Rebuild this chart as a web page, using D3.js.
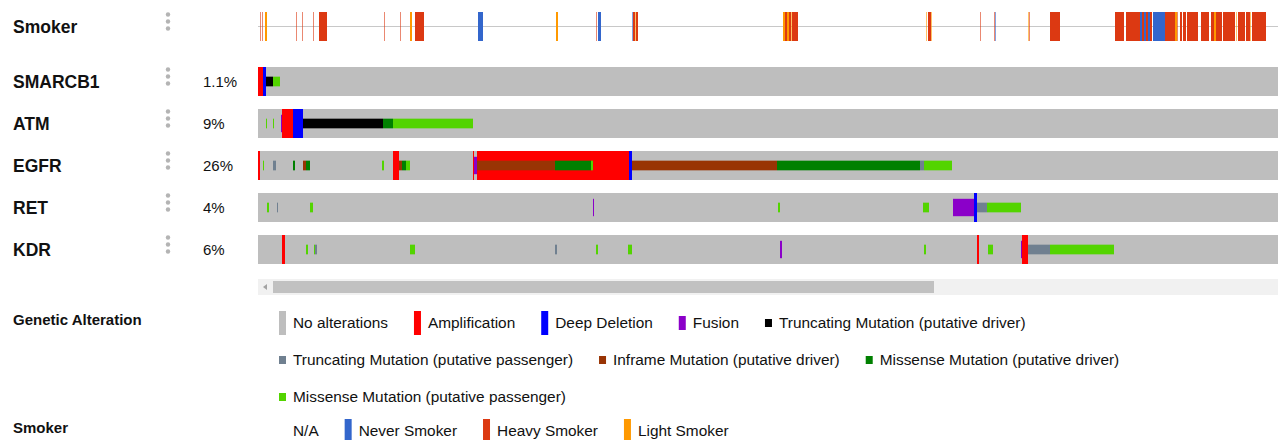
<!DOCTYPE html>
<html>
<head>
<meta charset="utf-8">
<script src="https://cdnjs.cloudflare.com/ajax/libs/d3/7.8.5/d3.min.js"></script>
<style>
  body { margin: 0; background: #fff; }
  svg { font-family: "Liberation Sans", Arial, sans-serif; }
</style>
</head>
<body>
<script>
// sample columns in the oncoprint (one column ~ one pixel)
var nSamples = 1020;

var genes = ["SMARCB1", "ATM", "EGFR", "RET", "KDR"];
var percents = ["1.1%", "9%", "26%", "4%", "6%"];

// [firstSample, lastSample, value]
var smoker = [
  [2,3,"Heavy Smoker"],[4,5,"Heavy Smoker"],[7,9,"Light Smoker"],[38,39,"Heavy Smoker"],
  [44,45,"Heavy Smoker"],[55,56,"Heavy Smoker"],[61,69,"Heavy Smoker"],[126,127,"Heavy Smoker"],
  [142,143,"Heavy Smoker"],[152,154,"Light Smoker"],[157,166,"Heavy Smoker"],[220,225,"Never Smoker"],
  [298,300,"Light Smoker"],[338,339,"Heavy Smoker"],[340,343,"Never Smoker"],[374,375,"Never Smoker"],
  [375,377,"Heavy Smoker"],[377,378,"Light Smoker"],[378,380,"Heavy Smoker"],[525,527,"Light Smoker"],
  [527,529,"Heavy Smoker"],[529,531,"Light Smoker"],[531,533,"Heavy Smoker"],[533,534,"Light Smoker"],
  [534,540,"Heavy Smoker"],[668,669,"Light Smoker"],[670,673,"Heavy Smoker"],[673,674,"Light Smoker"],
  [722,723,"Heavy Smoker"],[736,737,"Heavy Smoker"],[737,738,"Never Smoker"],[770,771,"Light Smoker"],
  [771,772,"Heavy Smoker"],[792,802,"Heavy Smoker"],[857,866,"Heavy Smoker"],[868,882,"Heavy Smoker"],
  [882,884,"Never Smoker"],[884,886,"Heavy Smoker"],[886,888,"Never Smoker"],[888,890,"Heavy Smoker"],
  [890,892,"Never Smoker"],[892,894,"Heavy Smoker"],[895,907,"Never Smoker"],[907,917,"Heavy Smoker"],
  [917,919,"Light Smoker"],[919,920,"Heavy Smoker"],[922,924,"Heavy Smoker"],[925,928,"Heavy Smoker"],
  [929,940,"Heavy Smoker"],[943,951,"Heavy Smoker"],[953,956,"Heavy Smoker"],[956,958,"Light Smoker"],
  [958,964,"Heavy Smoker"],[965,977,"Heavy Smoker"],[978,979,"Light Smoker"],[980,987,"Heavy Smoker"],
  [988,992,"Heavy Smoker"],[992,993,"Light Smoker"],[994,1008,"Heavy Smoker"]
];

var smarcb1 = [
  [0,5,"amp"],[5,8,"del"],[8,15,"truncDriver"],[15,22,"missPass"]
];
var atm = [
  [8,9,"missPass"],[15,16,"missPass"],[23,24,"fusion"],[24,35,"amp"],[35,45,"del"],
  [45,125,"truncDriver"],[125,135,"missDriver"],[135,215,"missPass"]
];
var egfr = [
  [0,2,"amp"],[5,6,"missPass"],[15,18,"truncPass"],[35,37,"missDriver"],[45,48,"inframe"],
  [48,52,"missDriver"],[124,126,"missPass"],[135,141,"amp"],[141,144,"inframe"],[144,148,"missDriver"],
  [148,152,"missPass"],[215,216,"amp"],[216,219,"fusion"],[219,371,"amp"],[219,297,"inframe"],
  [297,333,"missDriver"],[333,335,"missPass"],[371,374,"del"],[374,519,"inframe"],
  [519,662,"missDriver"],[662,666,"truncPass"],[666,694,"missPass"]
];
var ret = [
  [9,11,"missPass"],[19,20,"truncPass"],[52,55,"missPass"],[335,336,"fusion"],[520,522,"missPass"],
  [665,671,"missPass"],[695,716,"fusion"],[716,719,"del"],[719,729,"truncPass"],[729,763,"missPass"]
];
var kdr = [
  [24,27,"amp"],[48,50,"missPass"],[56,57,"missPass"],[57,59,"truncPass"],[152,157,"missPass"],
  [297,299,"truncPass"],[338,340,"missPass"],[370,374,"missPass"],[522,524,"fusion"],
  [666,668,"missPass"],[719,721,"amp"],[730,735,"missPass"],[763,764,"fusion"],[764,770,"amp"],
  [770,792,"truncPass"],[792,856,"missPass"]
];

var alterationKeys = ["none","amp","del","fusion","truncDriver","truncPass","inframe","missDriver","missPass"];
var alterationNames = ["No alterations","Amplification","Deep Deletion","Fusion",
  "Truncating Mutation (putative driver)","Truncating Mutation (putative passenger)",
  "Inframe Mutation (putative driver)","Missense Mutation (putative driver)",
  "Missense Mutation (putative passenger)"];
var smokerNames = ["N/A","Never Smoker","Heavy Smoker","Light Smoker"];

var geneRows = [smarcb1, atm, egfr, ret, kdr];

var altColor = {
  none: "#bebebe", amp: "#ff0000", del: "#0000ff", fusion: "#8b00c9",
  truncDriver: "#000000", truncPass: "#708090", inframe: "#993404",
  missDriver: "#008000", missPass: "#53d400"
};
var smokerColor = {
  "N/A": "#ffffff", "Never Smoker": "#3366cc", "Heavy Smoker": "#dc3912", "Light Smoker": "#ff9900"
};
// glyph layer: 0 = full height (CNA), 1 = fusion, 2 = mutation
function layer(k) {
  if (k == "none" || k == "amp" || k == "del") return 0;
  if (k == "fusion") return 1;
  return 2;
}

var width = 1278, height = 440;
var svg = d3.select("body").append("svg")
  .attr("width", width)
  .attr("height", height);

var x = d3.scaleLinear()
  .domain([0, nSamples])
  .range([258, 1278]);

var y = d3.scaleBand()
  .domain(genes)
  .range([67, 264])
  .paddingInner(13 / 42);
var bh = y.bandwidth();

function glyphY(k) {
  var l = layer(k);
  if (l == 0) return 0;
  if (l == 1) return bh * 0.2;
  return bh / 3;
}
function glyphH(k) {
  var l = layer(k);
  if (l == 0) return bh;
  if (l == 1) return bh * 0.6;
  return bh / 3;
}

// ---- clinical track (Smoker)
var smokerTop = 12, smokerH = 29;
svg.append("line")
  .attr("x1", x(0)).attr("x2", x(nSamples))
  .attr("y1", smokerTop + 14.5).attr("y2", smokerTop + 14.5)
  .attr("stroke", "#c8c8c8").attr("stroke-width", 1);

svg.append("g").selectAll("rect")
  .data(smoker)
  .join("rect")
    .attr("x", function(d) { return x(d[0]); })
    .attr("width", function(d) { return x(d[1]) - x(d[0]); })
    .attr("y", smokerTop)
    .attr("height", smokerH)
    .attr("fill", function(d) { return smokerColor[d[2]]; })
    .attr("opacity", function(d) { return d[1] - d[0] <= 1 ? 0.6 : 1; });

// ---- gene tracks
var rows = svg.append("g").selectAll("g")
  .data(genes)
  .join("g")
    .attr("transform", function(d) { return "translate(0," + y(d) + ")"; });

rows.append("rect")
  .attr("x", x(0))
  .attr("width", x(nSamples) - x(0))
  .attr("height", bh)
  .attr("fill", altColor.none);

rows.each(function(g, i) {
  var data = geneRows[i].slice().sort(function(a, b) { return layer(a[2]) - layer(b[2]); });
  d3.select(this).selectAll("rect.alt")
    .data(data)
    .join("rect")
      .attr("class", "alt")
      .attr("x", function(d) { return x(d[0]); })
      .attr("width", function(d) { return x(d[1]) - x(d[0]); })
      .attr("y", function(d) { return glyphY(d[2]); })
      .attr("height", function(d) { return glyphH(d[2]); })
      .attr("fill", function(d) { return altColor[d[2]]; });
});

// ---- track labels, menu dots, percentages
var labels = [{name: "Smoker", top: smokerTop, pct: ""}].concat(genes.map(function(g, i) {
  return {name: g, top: y(g), pct: percents[i]};
}));

var lab = svg.append("g").selectAll("g")
  .data(labels)
  .join("g")
    .attr("transform", function(d) { return "translate(0," + d.top + ")"; });

lab.append("text")
  .attr("x", 13)
  .attr("y", 20.5)
  .attr("font-size", 17.5)
  .attr("font-weight", "bold")
  .attr("fill", "#111")
  .text(function(d) { return d.name; });

lab.selectAll("circle")
  .data([2.5, 9.5, 16.5])
  .join("circle")
    .attr("cx", 168)
    .attr("cy", function(d) { return d; })
    .attr("r", 2.2)
    .attr("fill", "#b4b4b4");

lab.append("text")
  .attr("x", 203)
  .attr("y", 20)
  .attr("font-size", 15)
  .attr("fill", "#111")
  .text(function(d) { return d.pct; });

// ---- scrollbar under the tracks
svg.append("rect")
  .attr("x", x(0)).attr("y", 279)
  .attr("width", x(nSamples) - x(0)).attr("height", 16)
  .attr("fill", "#f1f1f1");
svg.append("rect")
  .attr("x", 273).attr("y", 281)
  .attr("width", 661).attr("height", 12)
  .attr("fill", "#c1c1c1");
svg.append("path")
  .attr("d", "M263,287L267,284L267,290Z")
  .attr("fill", "#a3a3a3");

// ---- legends
function drawLegend(title, titleY, items, rowY0, rowStep) {
  svg.append("text")
    .attr("x", 13).attr("y", titleY)
    .attr("font-size", 15).attr("font-weight", "bold")
    .attr("fill", "#111")
    .text(title);

  var cx = 279, cy = rowY0;
  items.forEach(function(it) {
    var g = svg.append("g");
    var t = g.append("text")
      .attr("x", 14).attr("y", 5)
      .attr("font-size", 15.4)
      .attr("fill", "#111")
      .text(it.label);
    var w = 14 + t.node().getComputedTextLength();
    if (cx + w > 1270) { cx = 279; cy += rowStep; }
    g.attr("transform", "translate(" + cx + "," + cy + ")");
    g.insert("rect", "text")
      .attr("x", 0).attr("width", 7)
      .attr("y", -it.h / 2).attr("height", it.h)
      .attr("fill", it.color);
    cx += w + 26;
  });
}

drawLegend("Genetic Alteration", 325, alterationKeys.map(function(k, i) {
  return {label: alterationNames[i], color: altColor[k], h: layer(k) == 0 ? 24 : (layer(k) == 1 ? 14 : 8)};
}), 323, 37);

drawLegend("Smoker", 433, smokerNames.map(function(s) {
  return {label: s, color: smokerColor[s], h: 24};
}), 431, 37);
</script>
</body>
</html>
